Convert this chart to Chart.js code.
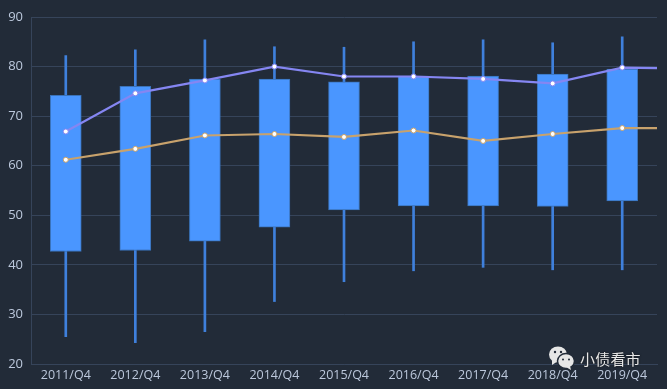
<!DOCTYPE html>
<html>
<head>
<meta charset="utf-8">
<style>
  html, body { margin: 0; padding: 0; background: #222b38; }
  #wrap { position: relative; width: 667px; height: 389px; overflow: hidden; }
  #mark { position: absolute; left: 548px; top: 346px; display: flex; align-items: center; }
  #mark span { margin-left: 4px; font: 15px "Noto Sans CJK SC", sans-serif; color: #e8e8e8; letter-spacing: 0.2px; text-shadow: 0 0 2px #111; }
</style>
<script src="https://cdn.jsdelivr.net/npm/chart.js@4"></script>
</head>
<body>
<div id="wrap">
  <canvas id="chart" width="667" height="389"></canvas>
  <div id="mark">
    <svg width="28" height="24" viewBox="0 0 28 24">
      <ellipse cx="10" cy="8.5" rx="9" ry="8" fill="#e6e6e6"/>
      <path d="M4 13 L4 19 L10 15 Z" fill="#e6e6e6"/>
      <ellipse cx="18" cy="15" rx="8.5" ry="7.5" fill="#e6e6e6" stroke="#222b38" stroke-width="1.5"/>
      <path d="M22 20 L23 24 L18 21 Z" fill="#e6e6e6"/>
      <circle cx="7" cy="6" r="1.2" fill="#222b38"/>
      <circle cx="13" cy="6" r="1.2" fill="#222b38"/>
      <circle cx="15" cy="13.5" r="1" fill="#222b38"/>
      <circle cx="21" cy="13.5" r="1" fill="#222b38"/>
    </svg>
    <span>小债看市</span>
  </div>
</div>
<script>
const quarters = ["2011/Q4", "2012/Q4", "2013/Q4", "2014/Q4", "2015/Q4", "2016/Q4", "2017/Q4", "2018/Q4", "2019/Q4"];
const lows = [25.5, 24.3, 26.5, 32.6, 36.6, 38.8, 39.5, 39.0, 39.0];
const highs = [82.2, 83.4, 85.4, 84.0, 83.9, 85.0, 85.4, 84.8, 86.0];
const boxBottoms = [42.7, 42.9, 44.8, 47.6, 51.1, 51.9, 51.9, 51.8, 52.9];
const boxTops = [74.2, 76.0, 77.5, 77.5, 76.9, 78.1, 78.1, 78.5, 79.5];
// the two lines run on past the last quarter to the edge of the plot, so they get one extra value
const linePositions = [0, 1, 2, 3, 4, 5, 6, 7, 8, 8.5];
const purpleLine = [66.9, 74.6, 77.2, 80.0, 78.0, 78.0, 77.5, 76.6, 79.8, 79.7];
const tanLine = [61.2, 63.4, 66.1, 66.4, 65.8, 67.1, 65.0, 66.4, 67.6, 67.6];

const gridColor = "#36445a";
const textColor = "#bcc8dc";

function lineDataset(values, color) {
  return {
    type: "line",
    xAxisID: "xLine",
    data: values.map((v, i) => ({ x: linePositions[i], y: v })),
    borderColor: color,
    borderWidth: 2.2,
    tension: 0,
    order: 0,
    pointBackgroundColor: "#ffffff",
    pointBorderColor: color,
    pointBorderWidth: 1,
    // no dot on the extra end value
    pointRadius: values.map((v, i) => (i === values.length - 1 ? 0 : 2.5)),
  };
}

new Chart(document.querySelector("#chart").getContext("2d"), {
  data: {
    labels: quarters,
    datasets: [
      lineDataset(purpleLine, "#8586f2"),
      lineDataset(tanLine, "#c8a26c"),
      {
        type: "bar",
        data: boxTops.map((v, i) => [boxBottoms[i], v]),
        backgroundColor: "#4a96ff",
        borderColor: "#3a72b8",
        borderWidth: 1,
        borderSkipped: false,
        barThickness: 31,
        grouped: false,
        order: 1,
      },
      {
        type: "bar",
        data: highs.map((v, i) => [lows[i], v]),
        backgroundColor: "#3f80dc",
        barThickness: 2,
        grouped: false,
        order: 2,
      },
    ],
  },
  options: {
    responsive: false,
    animation: false,
    layout: { padding: { top: 17, right: 10, left: 0, bottom: 0 } },
    plugins: { legend: { display: false }, tooltip: { enabled: false } },
    scales: {
      x: {
        grid: { display: false, drawTicks: false },
        border: { color: gridColor },
        ticks: { color: textColor, font: { family: "'Open Sans'", size: 12.5 }, maxRotation: 0, autoSkip: false, padding: 4 },
        afterFit(scale) { scale.height = 25; },
      },
      xLine: {
        type: "linear",
        display: false,
        min: -0.5,
        max: 8.5,
      },
      y: {
        min: 20,
        max: 90,
        grid: { color: gridColor, drawTicks: false },
        border: { color: gridColor },
        ticks: { stepSize: 10, color: textColor, font: { family: "'Open Sans'", size: 13 }, padding: 8 },
        afterFit(scale) { scale.width = 31; },
      },
    },
  },
});
</script>
</body>
</html>
